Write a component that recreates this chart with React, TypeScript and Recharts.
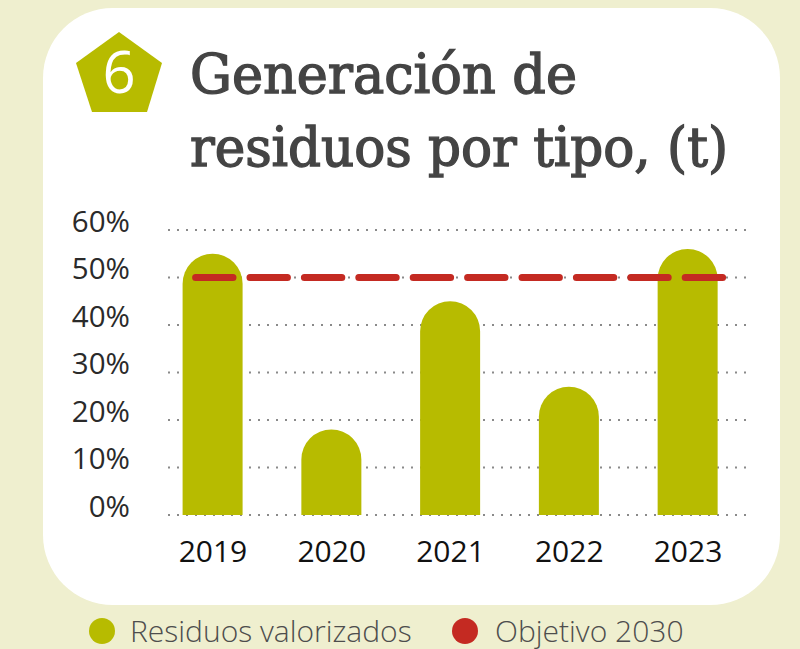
import React from "react";
import { BarChart, Bar, XAxis, YAxis, CartesianGrid, ReferenceLine } from "recharts";

// values (% of waste valorised)
const years = ["2019", "2020", "2021", "2022", "2023"];
const valorizados = [55, 18, 45, 27, 56];
const objetivo2030 = 50;
const yTicks = [0, 10, 20, 30, 40, 50, 60];

const BG = "#EFEFCF";
const OLIVE = "#B7BB00";
const RED = "#C42A22";
const TITLE = "#444444";

const legendItems = [
  { name: "Residuos valorizados", color: OLIVE, dot: 102, text: 130 },
  { name: "Objetivo 2030", color: RED, dot: 465, text: 495 },
];

const data = years.map((year, i) => ({ year, valorizados: valorizados[i] }));

const YTick = (props: any) => (
  <text
    x={props.x}
    y={props.y + 1.5}
    textAnchor="end"
    fontFamily="'Open Sans', sans-serif"
    fontSize={29.5}
    fill="#2a2a2a"
  >
    {props.payload.value}%
  </text>
);

const XTick = (props: any) => (
  <text
    x={props.x}
    y={props.y + 46.5}
    textAnchor="middle"
    fontFamily="'Open Sans', sans-serif"
    fontSize={30}
    fill="#111"
  >
    {props.payload.value}
  </text>
);

// dotted gridline that starts a bit right of the plot edge, like the original
const GridLine = (props: any) => (
  <line
    key={props.key}
    x1={props.x1 + 14.4}
    x2={props.x2 - 1}
    y1={props.y1}
    y2={props.y2}
    stroke="#8a8a8a"
    strokeWidth={2}
    strokeDasharray="2 7"
  />
);

const TargetLine = (props: any) => (
  <line
    x1={props.x1 + 42}
    x2={props.x2 - 24}
    y1={props.y1}
    y2={props.y2}
    stroke={RED}
    strokeWidth={7}
    strokeLinecap="round"
    strokeDasharray="37.4 17"
  />
);

export default function App() {
  return (
    <div
      style={{
        position: "absolute",
        left: 0,
        top: 0,
        width: 800,
        height: 649,
        background: BG,
        overflow: "hidden",
      }}
    >
      <svg width={800} height={649} style={{ position: "absolute", left: 0, top: 0 }}>
        <rect x={43} y={8} width={737} height={597} rx={70} ry={70} fill="#fff" />
        <polygon points="119,32 162,63 147,112 92,112 76,63" fill={OLIVE} />
        <text
          x={119}
          y={93}
          textAnchor="middle"
          fontFamily="'Open Sans', sans-serif"
          fontSize={58}
          fill="#fff"
        >
          6
        </text>
        <g
          fontFamily="'DejaVu Serif', serif"
          fill={TITLE}
          stroke={TITLE}
          strokeWidth={1.3}
          fontSize={54}
          style={{ fontStretch: "condensed" }}
        >
          <text x={190} y={93} textLength={387} lengthAdjust="spacingAndGlyphs">
            Generación de
          </text>
          <text x={190} y={166} textLength={538} lengthAdjust="spacingAndGlyphs">
            residuos por tipo, (t)
          </text>
        </g>
        {legendItems.map((item) => (
          <g key={item.name}>
            <circle cx={item.dot} cy={631} r={13} fill={item.color} />
            <text
              x={item.text}
              y={642}
              fontFamily="'Open Sans', sans-serif"
              fontWeight={300}
              fontSize={30}
              fill="#4d4d4d"
            >
              {item.name}
            </text>
          </g>
        ))}
      </svg>
      <div style={{ position: "absolute", left: 0, top: 0 }}>
        <BarChart
          width={800}
          height={649}
          data={data}
          margin={{ top: 230, right: 52.6, bottom: 84, left: 53.6 }}
        >
          <CartesianGrid vertical={false} horizontal={GridLine} />
          <XAxis
            dataKey="year"
            height={50}
            axisLine={false}
            tickLine={false}
            tickSize={0}
            tickMargin={0}
            tick={XTick}
            interval={0}
          />
          <YAxis
            width={100}
            domain={[0, 60]}
            ticks={yTicks}
            axisLine={false}
            tickLine={false}
            tickSize={0}
            tickMargin={23.6}
            tick={YTick}
            interval={0}
          />
          <Bar
            dataKey="valorizados"
            name="Residuos valorizados"
            fill={OLIVE}
            barSize={60}
            radius={[30, 30, 0, 0]}
            isAnimationActive={false}
          />
          <ReferenceLine y={objetivo2030} shape={TargetLine} />
        </BarChart>
      </div>
    </div>
  );
}
